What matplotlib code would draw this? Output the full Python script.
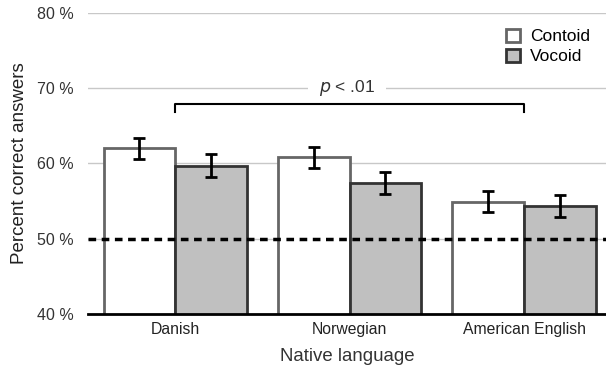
import matplotlib.pyplot as plt
import numpy as np

languages = ["Danish", "Norwegian", "American English"]
contoid = [62.0, 60.8, 54.9]
vocoid = [59.7, 57.4, 54.4]
contoid_err = [1.4, 1.4, 1.4]
vocoid_err = [1.5, 1.5, 1.45]
yticks = [40, 50, 60, 70, 80]

plt.rcParams['font.family'] = ['Liberation Sans', 'DejaVu Sans']

fig = plt.figure(figsize=(6.06, 3.72), dpi=100)
ax = fig.add_axes([0.145, 0.156, 0.855, 0.809])

x = np.arange(len(languages))
w = 0.41

for yv in yticks[1:]:
    ax.axhline(yv, color='#c8c8c8', lw=1, zorder=0)

ax.bar(x - w / 2, contoid, w, color='white', edgecolor='#666666', lw=2, zorder=2, label='Contoid')
ax.bar(x + w / 2, vocoid, w, color='#c0c0c0', edgecolor='#333333', lw=2, zorder=2, label='Vocoid')
ax.errorbar(x - w / 2, contoid, yerr=contoid_err, fmt='none', ecolor='black', elinewidth=2, capsize=4, capthick=2, zorder=3)
ax.errorbar(x + w / 2, vocoid, yerr=vocoid_err, fmt='none', ecolor='black', elinewidth=2, capsize=4, capthick=2, zorder=3)

ax.axhline(50, color='black', lw=2.5, ls=(0, (2.2, 1.6)), zorder=4)

# significance bracket
ax.plot([0, 0, 2, 2], [66.9, 67.9, 67.9, 66.9], color='black', lw=1.5, zorder=3)
ax.text(0.985, 70, r"$\it{p}$ < .01", ha='center', va='center', fontsize=12.5, color='#333333',
        bbox=dict(facecolor='white', edgecolor='none', pad=8), zorder=2)

ax.set_xlim(-0.5, 2.47)
ax.set_ylim(40, 80)
ax.set_yticks(yticks)
ax.set_yticklabels([f"{v} %" for v in yticks], fontsize=11.5, color='#333333')
ax.set_xticks(x)
ax.set_xticklabels(languages, fontsize=11.3, color='#222222')
ax.tick_params(length=0, pad=10)
ax.tick_params(axis='x', pad=6)
for s in ['top', 'right', 'left']:
    ax.spines[s].set_visible(False)
ax.spines['bottom'].set_linewidth(2)
ax.spines['bottom'].set_zorder(5)

ax.set_ylabel("Percent correct answers", fontsize=13.5, color='#222222', labelpad=7)
ax.set_xlabel("Native language", fontsize=13.4, color='#333333', labelpad=8)

leg = ax.legend(loc='upper right', bbox_to_anchor=(1.0, 1.0), frameon=False, fontsize=12.5,
                handlelength=0.8, handleheight=0.8, handletextpad=0.6, labelspacing=0.25)

fig.savefig('out.png', dpi=100)
